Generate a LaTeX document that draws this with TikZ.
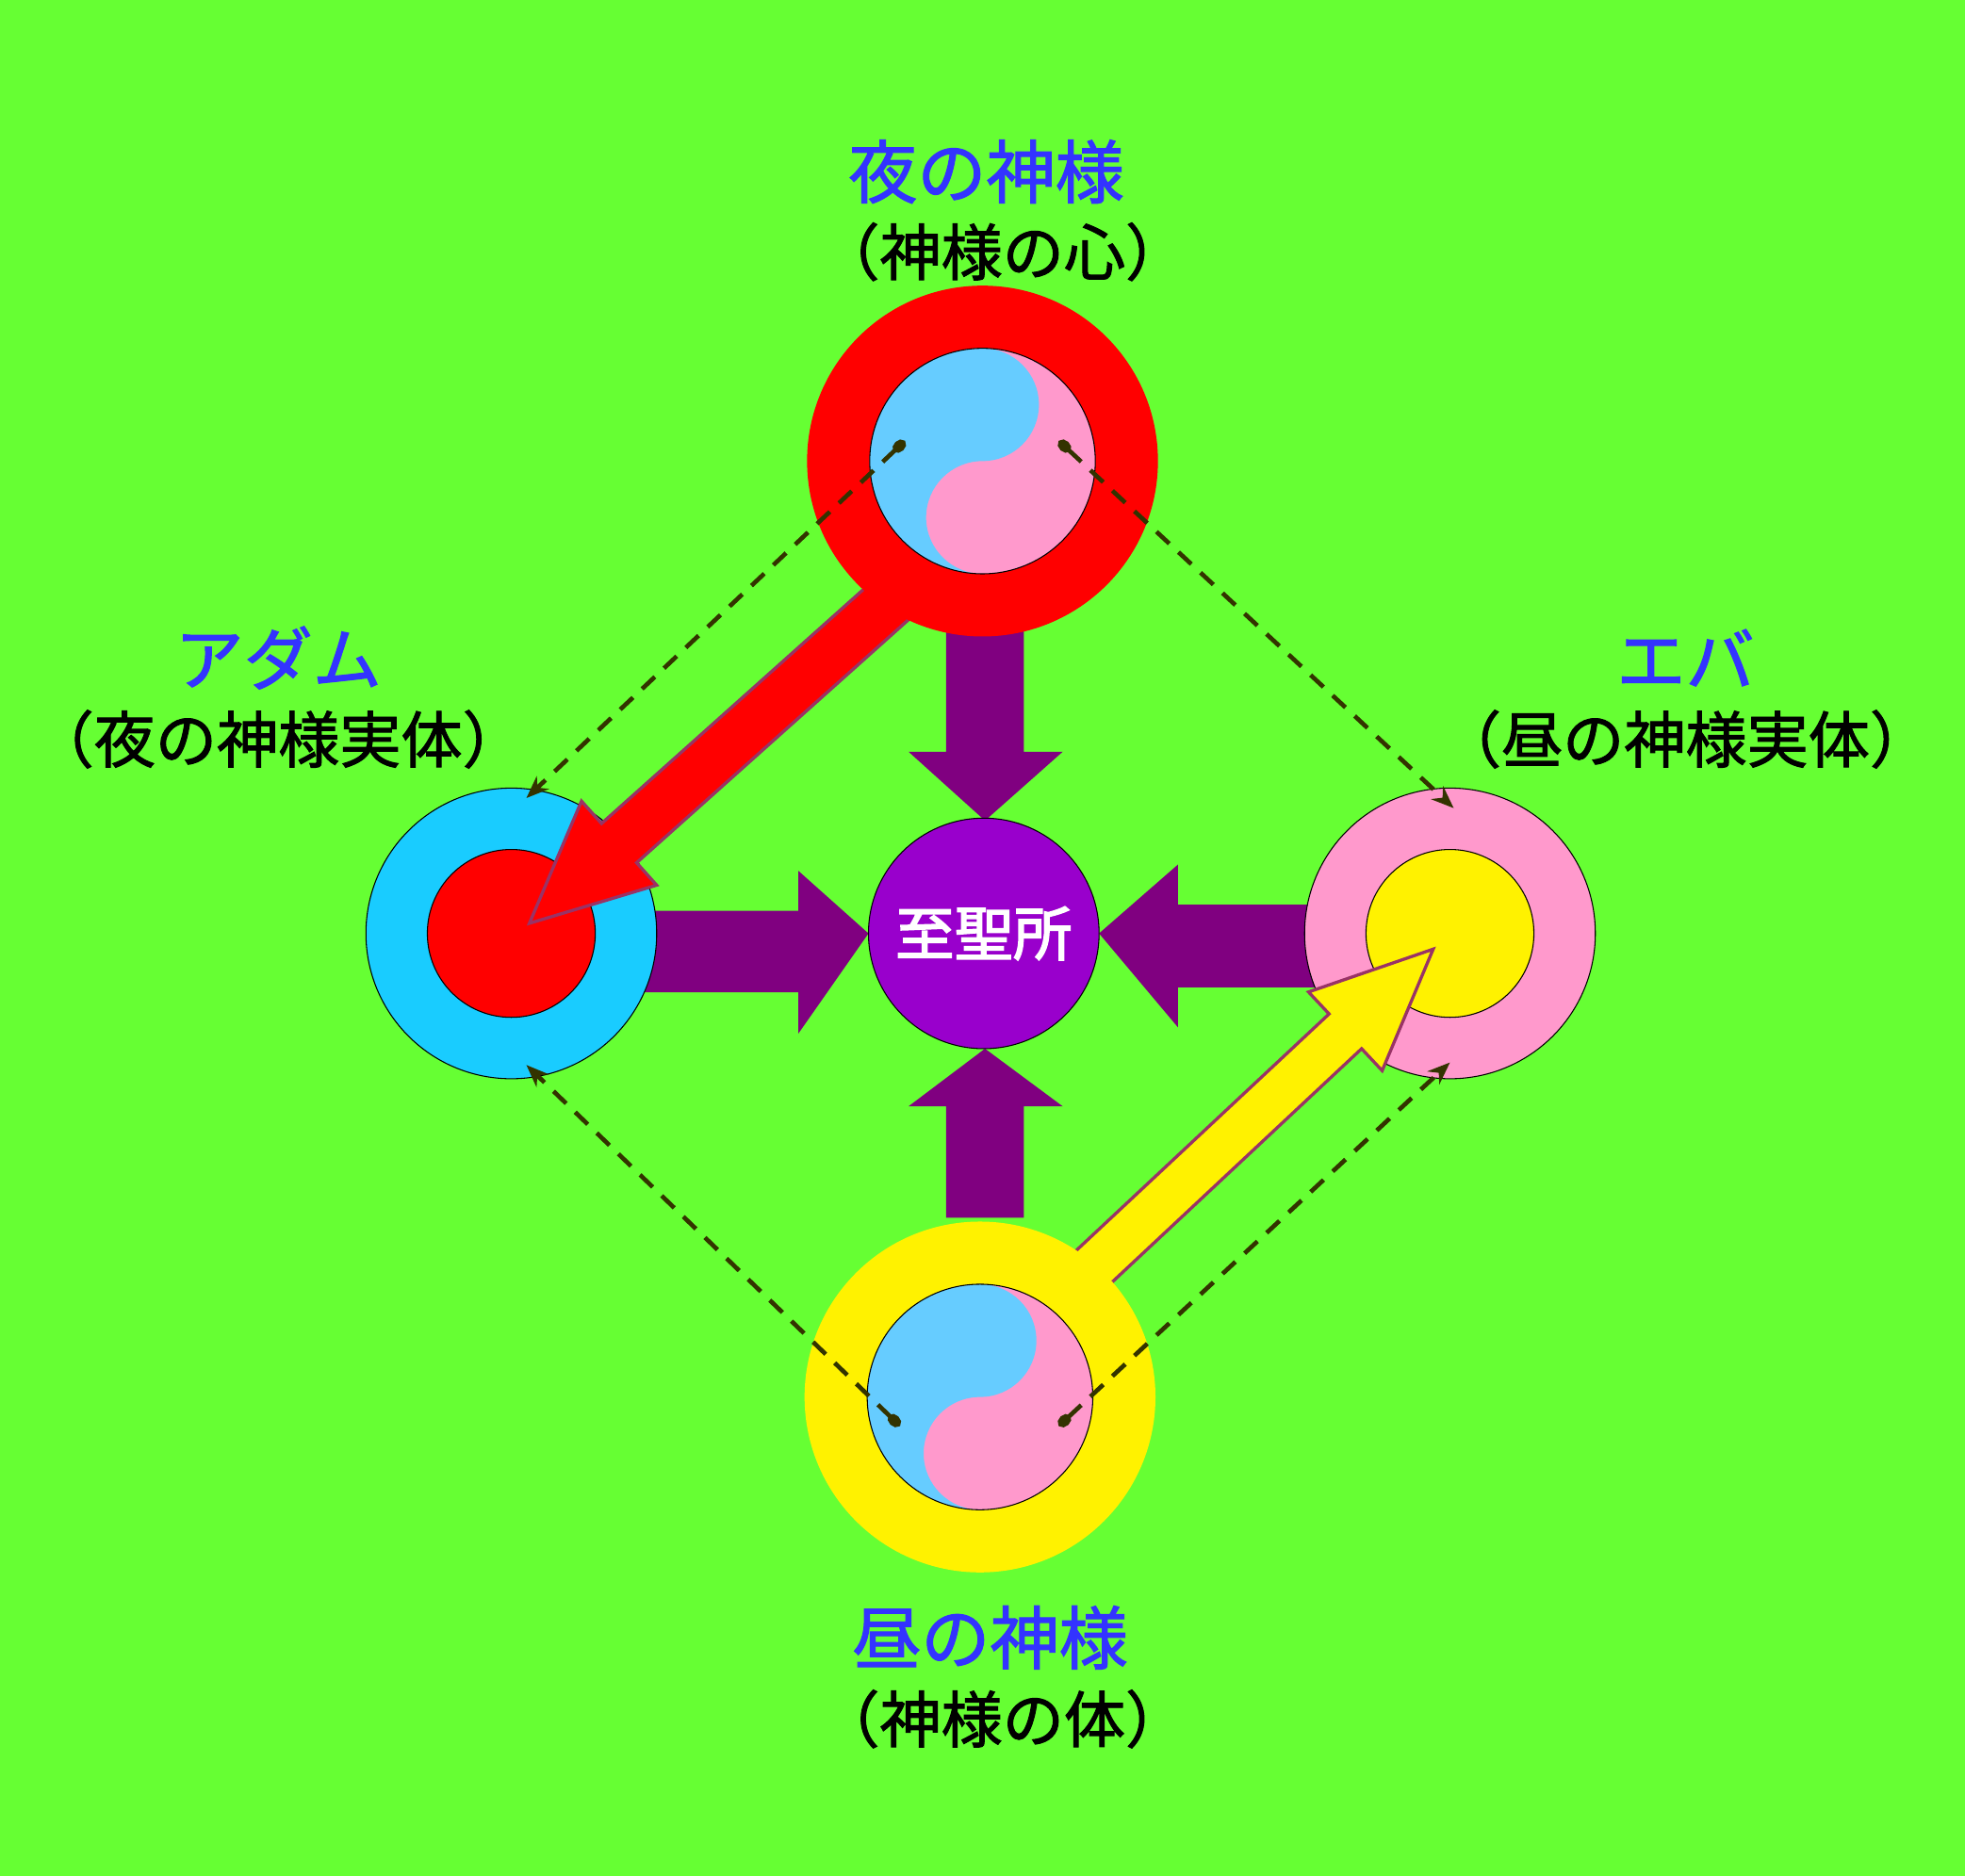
\documentclass[tikz,border=0pt]{standalone}
\usepackage{fontspec}
\newfontfamily\cjk{Noto Sans CJK JP}
\newfontfamily\cjkb[FakeBold=1.5]{Noto Sans CJK JP}
\newfontfamily\cjkbb[FakeBold=2.5]{Noto Sans CJK JP}
\usetikzlibrary{arrows.meta}
\definecolor{bg}{HTML}{66FF33}
\definecolor{lblue}{HTML}{66CCFF}
\definecolor{lpink}{HTML}{FF99CC}
\definecolor{cyanb}{HTML}{19CCFF}
\definecolor{purp}{HTML}{800080}
\definecolor{vio}{HTML}{9900CC}
\definecolor{ttl}{HTML}{3333FF}
\definecolor{dashcol}{HTML}{333300}
\definecolor{edge}{HTML}{993366}
\tikzset{
  ttltext/.style={text=ttl,font=\cjkb\fontsize{55}{60}\selectfont},
  subtext/.style={text=black,font=\cjkb\fontsize{49}{54}\selectfont},
  dashline/.style={draw=dashcol,line width=3.5pt,dash pattern=on 14pt off 10pt,{Circle[length=12pt,width=9pt]}-{Stealth[length=18pt,width=14pt]}},
  blockarrow/.style={fill=purp,draw=none}
}
\newcommand{\yinyang}[2]{%
  \fill[lpink] (#1,#2) circle (90);
  \fill[lblue] (#1,#2+90) arc[start angle=90,end angle=270,radius=90]
     arc[start angle=-90,end angle=-270,radius=45]
     arc[start angle=-90,end angle=90,radius=45] -- cycle;
  \draw[black,line width=0.8pt] (#1,#2) circle (90);}
\begin{document}
\begin{tikzpicture}[x=1pt,y=1pt]
\fill[bg] (0,0) rectangle (1568,1497);
\useasboundingbox (0,0) rectangle (1568,1497);
% purple block arrows
\fill[blockarrow] (755,1000) -- (817,1000) -- (817,897) -- (848,897) -- (786,842) -- (725,897) -- (755,897) -- cycle;
\fill[blockarrow] (755,525) -- (817,525) -- (817,614) -- (848,614) -- (786,660) -- (725,614) -- (755,614) -- cycle;
\fill[blockarrow] (500,770) -- (637,770) -- (637,802) -- (693,752) -- (637,672) -- (637,705) -- (500,705) -- cycle;
\fill[blockarrow] (1060,775) -- (940,775) -- (940,807) -- (877,752) -- (940,677) -- (940,709) -- (1060,709) -- cycle;
% side circles
\filldraw[fill=cyanb,draw=black,line width=0.8pt] (408,752) circle (116);
\filldraw[fill=red,draw=black,line width=0.8pt] (408,752) circle (67);
\filldraw[fill=lpink,draw=black,line width=0.8pt] (1157,752) circle (116);
\filldraw[fill=yellow,draw=black,line width=0.8pt] (1157,752) circle (67);
\node[circle,fill=vio,draw=black,line width=0.8pt,minimum size=184pt,inner sep=0pt,text=white,font=\cjkbb\fontsize{47}{50}\selectfont] (c) at (785,752) {至聖所};
% big arrows
\begin{scope}[shift={(740,1044)},rotate=221.8]
\filldraw[fill=red,draw=edge,line width=2.5pt] (0,-21) -- (330,-21) -- (330,-45) -- (426,0) -- (330,45) -- (330,21) -- (0,21) -- cycle;
\end{scope}
\begin{scope}[shift={(845,460)},rotate=43.1]
\filldraw[fill=yellow,draw=edge,line width=2.5pt] (0,-19) -- (313,-19) -- (313,-43) -- (409,0) -- (313,43) -- (313,19) -- (0,19) -- cycle;
\end{scope}
% top/bottom circles
\fill[red] (784,1129) circle (140);
\yinyang{784}{1129}
\fill[yellow] (782,382) circle (140);
\yinyang{782}{382}
% dashed connectors
\coordinate (t1) at (722,1145); \coordinate (t2) at (845,1145);
\coordinate (b1) at (718,359); \coordinate (b2) at (845,359);
\coordinate (la) at (420,860); \coordinate (lb) at (420,647);
\coordinate (ra) at (1160,852); \coordinate (rb) at (1157,649);
\draw[dashline] (t1) -- (la);
\draw[dashline] (t2) -- (ra);
\draw[dashline] (b1) -- (lb);
\draw[dashline] (b2) -- (rb);
% labels
\node[ttltext] (n1) at (787,1360) {夜の神様};
\node[subtext] (n2) at (800,1296) {（神様の心）};
\node[ttltext] (a1) at (222,972) {アダム};
\node[subtext] (a2) at (222,907) {（夜の神様実体）};
\node[ttltext] (e1) at (1345,972) {エバ};
\node[subtext] (e2) at (1345,907) {（昼の神様実体）};
\node[ttltext] (d1) at (790,190) {昼の神様};
\node[subtext] (d2) at (800,125) {（神様の体）};
\end{tikzpicture}
\end{document}
